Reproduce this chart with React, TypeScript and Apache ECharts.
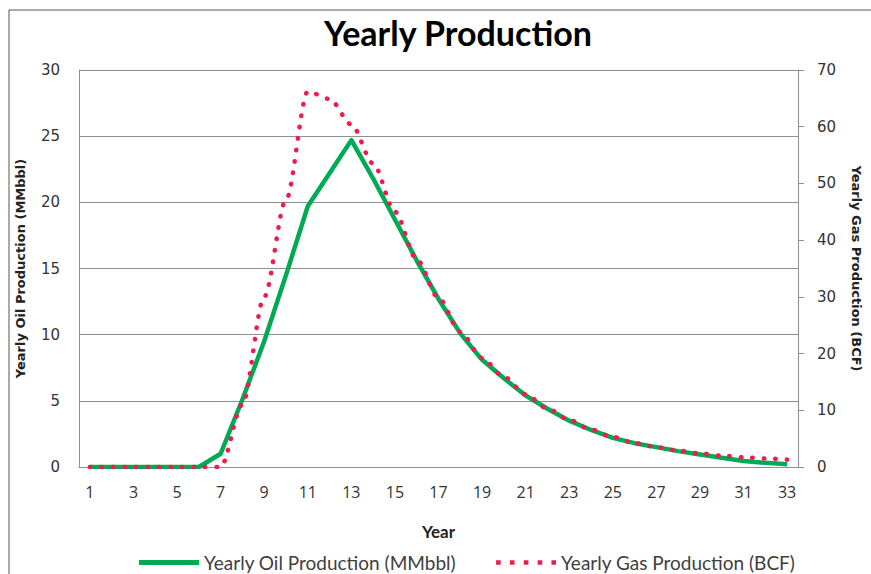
import React, { useEffect, useRef } from "react";
import * as echarts from "echarts";

const years = ["1","2","3","4","5","6","7","8","9","10","11","12","13","14","15","16","17","18","19","20","21","22","23","24","25","26","27","28","29","30","31","32","33"];
const oilProduction = [0, 0, 0, 0, 0, 0, 1.0, 5.1, 9.5, 14.5, 19.7, 22.2, 24.7, 21.8, 18.7, 15.6, 12.7, 10.1, 8.1, 6.7, 5.4, 4.4, 3.5, 2.8, 2.2, 1.8, 1.5, 1.2, 0.95, 0.7, 0.45, 0.32, 0.2];
const gasProduction = [0, 0, 0, 0, 0, 0, 0, 11.0, 30.0, 47.1, 66.2, 64.9, 60.4, 53.5, 45.0, 36.6, 29.8, 23.8, 19.2, 15.9, 12.8, 10.3, 8.3, 6.6, 5.3, 4.2, 3.5, 2.9, 2.4, 2.0, 1.7, 1.5, 1.3];
const oilTicks = { min: 0, max: 30, interval: 5 };
const gasTicks = { min: 0, max: 70, interval: 10 };

const GREEN = "#00AA55";
const RED = "#F01A4E";
const GRID = "#8f8f8f";
const DOTS_ICON = "path://M0,0h4v4h-4z M12,0h4v4h-4z M24,0h4v4h-4z M36,0h4v4h-4z M48,0h4v4h-4z";

export default function App() {
  const ref = useRef<HTMLDivElement>(null);
  useEffect(() => {
    if (!ref.current) return;
    const chart = echarts.init(ref.current, null, { renderer: "svg" });
    chart.setOption({
      animation: false,
      backgroundColor: "#ffffff",
      title: {
        text: "Yearly Production",
        left: 319,
        top: 10,
        textStyle: { fontFamily: "Lato", fontWeight: "bold", fontSize: 34, color: "#000" },
      },
      graphic: [
        { type: "line", shape: { x1: 9, y1: 10, x2: 871, y2: 10 }, style: { stroke: "#555", lineWidth: 1 } },
        { type: "line", shape: { x1: 9, y1: 10, x2: 9, y2: 574 }, style: { stroke: "#555", lineWidth: 1 } },
      ],
      grid: { left: 79, right: 68, top: 70, bottom: 107, containLabel: false },
      legend: {
        left: 134,
        top: 548,
        itemWidth: 60,
        itemHeight: 5,
        itemGap: 40,
        textStyle: { fontFamily: "Lato", fontSize: 19, color: "#404040" },
        data: [
          { name: "Yearly Oil Production (MMbbl)", icon: "rect", itemStyle: { color: GREEN } },
          { name: "Yearly Gas Production (BCF)", icon: DOTS_ICON, itemStyle: { color: RED } },
        ],
      },
      xAxis: {
        type: "category",
        data: years,
        boundaryGap: true,
        axisLine: { show: true, lineStyle: { color: GRID } },
        axisTick: { show: false },
        axisLabel: { interval: 1, fontFamily: "Open Sans", fontSize: 16, color: "#333", margin: 17 },
        name: "Year",
        nameLocation: "middle",
        nameGap: 56,
        nameTextStyle: { fontFamily: "Lato", fontWeight: "bold", fontSize: 17, color: "#222" },
      },
      yAxis: [
        {
          type: "value",
          position: "left",
          min: oilTicks.min,
          max: oilTicks.max,
          interval: oilTicks.interval,
          axisLine: { show: true, lineStyle: { color: GRID } },
          axisTick: { show: false },
          splitLine: { show: true, lineStyle: { color: GRID, width: 1 } },
          axisLabel: { fontFamily: "DejaVu Sans", fontSize: 15, color: "#333", margin: 19 },
          name: "Yearly Oil Production (MMbbl)",
          nameLocation: "middle",
          nameGap: 52,
          nameRotate: 90,
          nameTextStyle: { fontFamily: "DejaVu Sans", fontWeight: "bold", fontSize: 13, color: "#222" },
        },
        {
          type: "value",
          position: "right",
          min: gasTicks.min,
          max: gasTicks.max,
          interval: gasTicks.interval,
          axisLine: { show: true, lineStyle: { color: GRID } },
          axisTick: { show: true, inside: false, length: 6, lineStyle: { color: GRID } },
          splitLine: { show: false },
          axisLabel: { fontFamily: "DejaVu Sans", fontSize: 15, color: "#333", margin: 19 },
          name: "Yearly Gas Production (BCF)",
          nameLocation: "middle",
          nameGap: 52,
          nameRotate: -90,
          nameTextStyle: { fontFamily: "DejaVu Sans", fontWeight: "bold", fontSize: 13, color: "#222" },
        },
      ],
      series: [
        {
          name: "Yearly Oil Production (MMbbl)",
          type: "line",
          yAxisIndex: 0,
          data: oilProduction,
          symbol: "none",
          lineStyle: { color: GREEN, width: 4.5, join: "round" },
          itemStyle: { color: GREEN },
          z: 2,
        },
        {
          name: "Yearly Gas Production (BCF)",
          type: "line",
          yAxisIndex: 1,
          data: gasProduction,
          symbol: "none",
          smooth: 0.3,
          smoothMonotone: "x",
          lineStyle: { color: RED, width: 4.5, type: [0.5, 11], cap: "round" },
          itemStyle: { color: RED },
          z: 3,
        },
      ],
    });
    return () => chart.dispose();
  }, []);
  return <div ref={ref} style={{ width: 871, height: 574, position: "absolute", left: 0, top: 0 }} />;
}
